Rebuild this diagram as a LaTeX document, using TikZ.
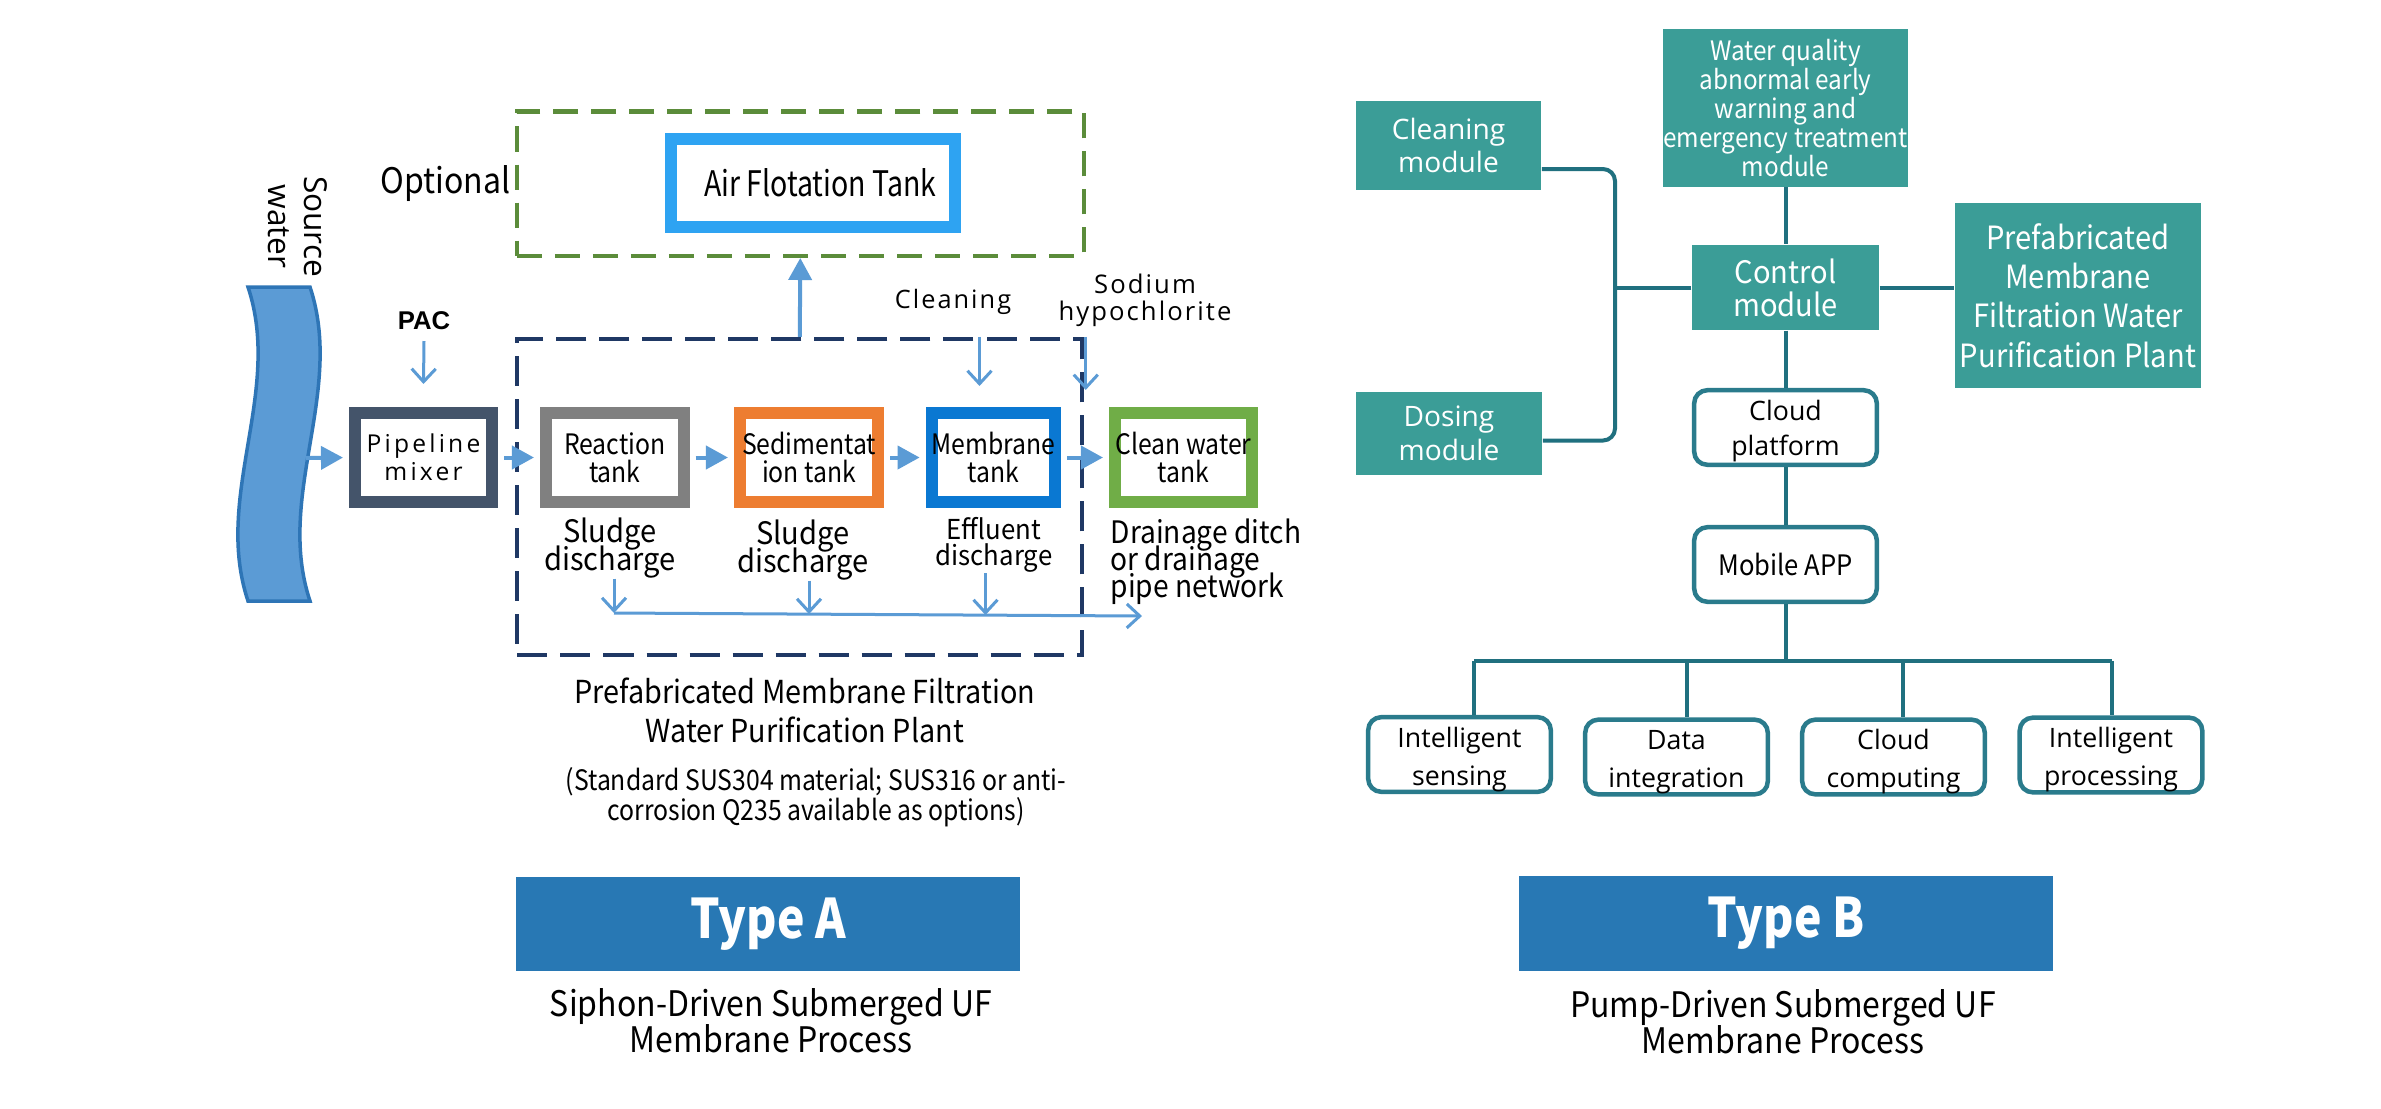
\documentclass[tikz,border=0pt]{standalone}
\usepackage{fontspec}
\setmainfont{Noto Sans CJK SC}[FakeStretch=0.91]
\newfontfamily\srcw{Noto Sans CJK SC}[FakeStretch=0.94]
\newfontfamily\srcn{Noto Sans CJK SC}[FakeStretch=0.88]
\newfontfamily\srcc{Noto Sans CJK SC}[FakeStretch=0.81]
\newfontfamily\srcb{Noto Sans CJK SC}[FakeStretch=0.85]
\newfontfamily\osans{Open Sans}
\newfontfamily\ospa{Open Sans}[LetterSpace=8]
\newfontfamily\ospb{Open Sans}[LetterSpace=13]
\newfontfamily\arialf{Liberation Sans}
\usetikzlibrary{arrows.meta,calc}
\newcommand\fsz[2]{\fontsize{#1pt}{#2pt}\selectfont\lineskiplimit=-20pt\relax}
\newcommand\tpad[1]{\rule{0pt}{#1}}
\definecolor{arrblue}{HTML}{5B9BD5}
\definecolor{bandedge}{HTML}{2E75B6}
\definecolor{slate}{HTML}{44546A}
\definecolor{graybox}{HTML}{808080}
\definecolor{orangebox}{HTML}{ED7D31}
\definecolor{memblue}{HTML}{0A78D2}
\definecolor{greenbox}{HTML}{70AD47}
\definecolor{airblue}{HTML}{2EA3F2}
\definecolor{dgreen}{HTML}{5B8C3A}
\definecolor{navy}{HTML}{1F3864}
\definecolor{tealfill}{HTML}{3B9D97}
\definecolor{tealedge}{HTML}{2A7B8C}
\definecolor{tealline}{HTML}{20707F}
\definecolor{typeblue}{HTML}{2878B4}
\begin{document}
\begin{tikzpicture}[x=0.01cm,y=-0.01cm,
  tank/.style={draw, line width=0.12cm, fill=white, inner sep=0pt, align=center, font=\srcn\fsz{8}{8}},
  flow/.style={draw=arrblue, line width=0.04cm, -{Triangle[length=0.22cm,width=0.23cm]}, shorten >=0.06cm},
  varrow/.style={draw=arrblue, line width=0.03cm, -{Straight Barb[length=0.13cm,width=0.24cm]}},
  lbl/.style={inner sep=0pt, align=center},
  tbox/.style={fill=tealfill, text=white, inner sep=0pt, align=center},
  rbox/.style={draw=tealedge, line width=0.045cm, rounded corners=0.13cm, fill=white, inner sep=0pt, align=center, minimum width=1.825cm, minimum height=0.745cm},
  tline/.style={draw=tealline, line width=0.04cm},
  typebox/.style={fill=typeblue, text=white, inner sep=0pt, font=\srcb\bfseries\fsz{15.5}{16}}
]
\useasboundingbox (0,0) rectangle (2381,1108);
\fill[white] (0,0) rectangle (2381,1108);

% ---------- Type A ----------
% source water band
\path[fill=arrblue, draw=bandedge, line width=0.035cm]
  (248,287) -- (310,287) .. controls (345,392) and (275,496) .. (310,601)
  -- (248,601) .. controls (213,496) and (283,392) .. (248,287) -- cycle;
\node[lbl, rotate=-90, font=\osans\fsz{9}{10.2}] (srcw) at (298,226.5) {Source\\water};

% dashed boxes
\node[draw=dgreen, line width=0.045cm, dash pattern=on 0.25cm off 0.13cm, inner sep=0pt,
  minimum width=5.666cm, minimum height=1.44cm] (dashG) at (800.3,183.7) {};
\node[draw=navy, line width=0.04cm, dash pattern=on 0.3cm off 0.13cm, inner sep=0pt,
  minimum width=5.644cm, minimum height=3.16cm] (dashA) at (799.8,497) {};

% tanks
\node[tank, draw=airblue, minimum width=2.84cm, minimum height=0.886cm, font=\srcc\fsz{10}{10}] (air) at (812.7,183) {\hspace*{0.15cm}Air Flotation Tank};
\node[tank, draw=slate, minimum width=1.37cm, minimum height=0.89cm, font=\ospb\fsz{7}{8}] (pipe) at (423.5,457.5) {Pipeline\\mixer};
\node[tank, draw=graybox, minimum width=1.375cm, minimum height=0.89cm] (react) at (614.75,457.5) {Reaction\\tank};
\node[tank, draw=orangebox, minimum width=1.38cm, minimum height=0.89cm] (sed) at (809,457.5) {Sedimentat\\ion tank};
\node[tank, draw=memblue, minimum width=1.23cm, minimum height=0.89cm] (mem) at (993.5,457.5) {Membrane\\tank};
\node[tank, draw=greenbox, minimum width=1.37cm, minimum height=0.89cm] (cleanw) at (1183.5,457.5) {Clean water\\tank};

% labels
\node[lbl, font=\fsz{10}{10}, anchor=base] (opt) at (445.5,193) {Optional};
\node[lbl, font=\arialf\bfseries\fsz{7.3}{8}, anchor=base] (pac) at (424,329) {PAC};
\node[lbl, font=\ospa\fsz{7.2}{8}, anchor=base] (clnlbl) at (953,308) {Cleaning};
\node[lbl, font=\ospa\fsz{7.3}{7.6}] (sodium) at (1145,300.3) {Sodium\\hypochlorite};
\node[lbl, font=\srcw\fsz{8.8}{7.8}] (sl1) at (610,548) {Sludge\\discharge};
\node[lbl, font=\srcw\fsz{8.8}{7.8}] (sl2) at (803,550) {Sludge\\discharge};
\node[lbl, font=\srcw\fsz{7.8}{7.3}] (eff) at (994,545) {Effluent\\discharge};
\node[lbl, font=\fsz{8.8}{7.7}, align=left, anchor=west] (drain) at (1110,562) {Drainage ditch\\or drainage\\pipe network};
\node[lbl, font=\fsz{9}{11.1}] (plant) at (805,710.7) {Prefabricated Membrane Filtration\\Water Purification Plant};
\node[lbl, font=\srcn\fsz{8}{8.5}] (mat) at (816,797.5) {(Standard SUS304 material; SUS316 or anti-\\corrosion Q235 available as options)};
\node[typebox, minimum width=5.03cm, minimum height=0.94cm] (typea) at (768.1,923.7) {Type A};
\node[lbl, font=\fsz{10}{10.2}] (siphon) at (771,1020.5) {Siphon-Driven Submerged UF\\Membrane Process};

% flow arrows
\coordinate (bandout) at (306,458);
\draw[flow] (bandout) -- (pipe.west);
\draw[flow, shorten <=0.06cm] (pipe.east) -- (react.west);
\draw[flow, shorten <=0.06cm] (react.east) -- (sed.west);
\draw[flow, shorten <=0.06cm] (sed.east) -- (mem.west);
\draw[flow, shorten <=0.06cm] (mem.east) -- (cleanw.west);
\draw[flow, shorten >=0pt] (dashA.north) -- (dashG.south);

% dosing arrows
\draw[varrow] ($(pac.base)+(0,12)$) -- ($(pipe.north)+(0,-23)$);
\draw[varrow] ($(mem.north |- dashA.north)+(-14,0)$) -- ($(mem.north)+(-14,-21)$);
\draw[varrow] ($(dashA.north east)+(1.6,0)$) -- ($(dashA.north east)+(1.6,53)$);

% discharge arrows
\coordinate (j1) at (614,613);
\coordinate (j2) at (809,614);
\coordinate (j3) at (985.5,615);
\coordinate (jend) at (1142,616);
\draw[varrow] (sl1.south -| j1) -- (j1);
\draw[varrow] (sl2.south -| j2) -- (j2);
\draw[varrow] (eff.south -| j3) -- (j3);
\draw[varrow] (j1) -- (jend);

% ---------- Type B ----------
\node[tbox, minimum width=1.85cm, minimum height=0.88cm, font=\osans\fsz{8}{9.5}] (cleanmod) at (1448.5,145.5) {Cleaning\\module};
\node[tbox, minimum width=2.45cm, minimum height=1.57cm, font=\fsz{7.6}{8.2}] (waterq) at (1785.5,108) {Water quality\\abnormal early\\warning and\\emergency treatment\\module};
\node[tbox, minimum width=1.87cm, minimum height=0.85cm, font=\srcw\fsz{8.8}{9.4}] (ctrl) at (1785.5,287.5) {Control\\module};
\node[tbox, minimum width=2.46cm, minimum height=1.85cm, font=\fsz{9.1}{11.2}] (prefab) at (2078,295.5) {Prefabricated\\Membrane\\Filtration Water\\Purification Plant};
\node[tbox, minimum width=1.86cm, minimum height=0.83cm, font=\osans\fsz{8}{9.5}] (dosmod) at (1449,433.5) {Dosing\\module};
\node[rbox, font=\osans\fsz{7.6}{10}] (cloudp) at (1785.5,427.5) {\tpad{7.9pt}Cloud\\platform};
\node[rbox, font=\fsz{8}{8}] (mobile) at (1785.5,564.5) {Mobile APP};
\node[rbox, font=\osans\fsz{7.6}{10.8}] (sens) at (1459.5,754.5) {\tpad{8.6pt}Intelligent\\sensing};
\node[rbox, font=\osans\fsz{7.6}{10.8}] (data) at (1676.5,757) {\tpad{8.6pt}Data\\integration};
\node[rbox, font=\osans\fsz{7.6}{10.8}] (ccomp) at (1893.5,757) {\tpad{8.6pt}Cloud\\computing};
\node[rbox, font=\osans\fsz{7.6}{10.8}] (proc) at (2111,755) {\tpad{8.6pt}Intelligent\\processing};
\node[typebox, minimum width=5.34cm, minimum height=0.945cm] (typeb) at (1786,923.4) {Type B};
\node[lbl, font=\fsz{10}{10}] (pump) at (1783,1021.7) {Pump-Driven Submerged UF\\Membrane Process};

% connectors
\draw[tline] (waterq.south) -- (ctrl.north);
\draw[tline] (ctrl.south) -- (cloudp.north);
\draw[tline] (cloudp.south) -- (mobile.north);
\draw[tline] (ctrl.east) -- (ctrl.east -| prefab.west);
\coordinate (brk) at (1615,287.5);
\draw[tline] (ctrl.west) -- (brk);
\draw[tline, rounded corners=0.12cm] ($(cleanmod.east)+(0,23.5)$) -| (brk) |- ($(dosmod.east)+(0,7)$);
\coordinate (hb) at (1785.5,661);
\draw[tline] (mobile.south) -- (hb);
\draw[tline] ($(sens.north |- hb)+(14.5,0)$) -- ($(proc.north |- hb)+(1,0)$);
\draw[tline] ($(sens.north |- hb)+(14.5,0)$) -- ($(sens.north)+(14.5,0)$);
\draw[tline] ($(data.north |- hb)+(10,0)$) -- ($(data.north)+(10,0)$);
\draw[tline] ($(ccomp.north |- hb)+(9.5,0)$) -- ($(ccomp.north)+(9.5,0)$);
\draw[tline] ($(proc.north |- hb)+(1,0)$) -- ($(proc.north)+(1,0)$);
\end{tikzpicture}
\end{document}
